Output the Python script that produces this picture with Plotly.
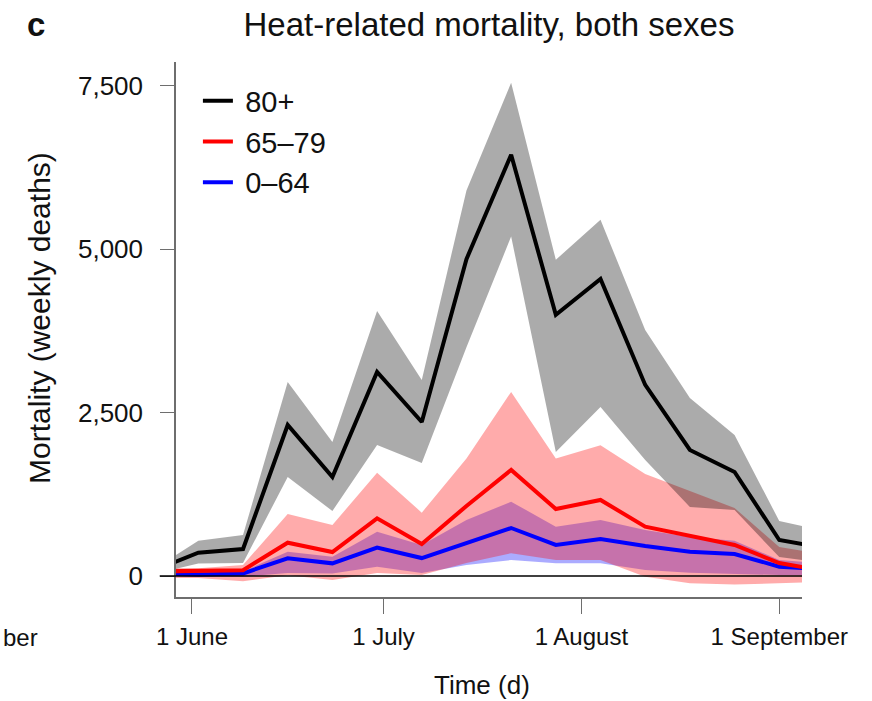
import plotly.graph_objects as go

# ---------------- data (weekly) ----------------
weeks = ['2022-05-26', '2022-06-02', '2022-06-09', '2022-06-16', '2022-06-23',
         '2022-06-30', '2022-07-07', '2022-07-14', '2022-07-21', '2022-07-28',
         '2022-08-04', '2022-08-11', '2022-08-18', '2022-08-25', '2022-09-01',
         '2022-09-08']

age80_mean = [83, 357, 413, 2312, 1516, 3124, 2358, 4850, 6447, 3997, 4548, 2925, 1930, 1593, 551, 431]
age80_hi = [100, 540, 628, 2970, 2052, 4058, 3000, 5900, 7550, 4840, 5452, 3767, 2726, 2159, 842, 693]
age80_lo = [30, 190, 199, 1516, 995, 2006, 1730, 3500, 5196, 1900, 2588, 1776, 1057, 1010, 290, 202]

age65_mean = [70, 80, 90, 510, 367, 883, 490, 1072, 1623, 1026, 1164, 755, 612, 475, 199, 79]
age65_hi = [120, 120, 170, 950, 780, 1582, 970, 1800, 2818, 1800, 2000, 1560, 1300, 1040, 444, 332]
age65_lo = [-30, -30, -80, 10, -60, 45, 15, 200, 350, 245, 245, -10, -110, -130, -110, -90]

age0_mean = [35, 25, 40, 270, 194, 434, 275, 505, 735, 475, 567, 460, 372, 337, 143, 102]
age0_hi = [60, 60, 70, 372, 296, 679, 475, 857, 1138, 755, 857, 704, 597, 541, 245, 194]
age0_lo = [10, -10, -10, 45, 40, 143, 45, 168, 245, 194, 194, 92, 51, 30, 15, 15]

series_names = ['80+', '65\u201379', '0\u201364']

x_tick_vals = ['2022-06-01', '2022-07-01', '2022-08-01', '2022-09-01']
x_tick_text = ['1 June', '1 July', '1 August', '1 September']
y_tick_vals = [0, 2500, 5000, 7500]
y_tick_text = ['0', '2,500', '5,000', '7,500']

FONT = 'Liberation Sans, Arial, sans-serif'
AXIS_GREY = '#6e6e6e'
TXT = '#111111'

fig = go.Figure()


def band(hi, lo, color):
    fig.add_trace(go.Scatter(
        x=weeks + weeks[::-1], y=hi + lo[::-1], fill='toself', fillcolor=color,
        line=dict(width=0), mode='lines', showlegend=False, hoverinfo='skip'))


band(age0_hi, age0_lo, 'rgba(0,0,255,0.33)')
band(age65_hi, age65_lo, 'rgba(255,0,0,0.33)')
band(age80_hi, age80_lo, 'rgba(0,0,0,0.33)')

for name, vals, col, rank in [(series_names[2], age0_mean, '#0000ff', 3),
                              (series_names[1], age65_mean, '#ff0000', 2),
                              (series_names[0], age80_mean, '#000000', 1)]:
    fig.add_trace(go.Scatter(x=weeks, y=vals, mode='lines', name='\u2005' + name,
                             line=dict(color=col, width=4), legendrank=rank,
                             legendgroup=name))

# zero reference line (extends a bit left of the axis, as in the original)
fig.add_shape(type='line', xref='paper', yref='y', x0=-0.026, x1=1, y0=0, y1=0,
              line=dict(color='black', width=1.5), layer='above')

fig.update_layout(
    width=872, height=701,
    margin=dict(l=176, r=70, t=62, b=104, autoexpand=False),
    paper_bgcolor='white', plot_bgcolor='white',
    font=dict(family=FONT, color=TXT),
    title=dict(text='Heat-related mortality, both sexes', font=dict(size=33, color=TXT),
               x=0.5, xref='paper', xanchor='center', y=0.965, yref='container', yanchor='middle'),
    showlegend=True,
    legend=dict(x=0.035, y=0.975, xanchor='left', yanchor='top', bgcolor='rgba(0,0,0,0)',
                font=dict(size=29, color=TXT), tracegroupgap=0, traceorder='grouped'),
    xaxis=dict(type='date', range=['2022-05-29 12:00', '2022-09-04 13:30'], automargin=False,
               tickvals=x_tick_vals, ticktext=x_tick_text,
               showline=True, linecolor=AXIS_GREY, linewidth=1.5,
               ticks='outside', ticklen=15, tickwidth=1.2, tickcolor=AXIS_GREY,
               tickfont=dict(size=24, color=TXT), ticklabelstandoff=2,
               showgrid=False, zeroline=False),
    yaxis=dict(range=[-321, 7867], tickvals=y_tick_vals, ticktext=y_tick_text, automargin=False,
               showline=True, linecolor=AXIS_GREY, linewidth=1.5,
               ticks='outside', ticklen=14, tickwidth=1.2, tickcolor=AXIS_GREY,
               tickfont=dict(size=26, color=TXT), ticklabelstandoff=12,
               showgrid=False, zeroline=False),
)

# axis titles
fig.add_annotation(text='Time (d)', xref='paper', yref='paper', x=0.4888, y=-0.1645,
                   xanchor='center', yanchor='middle', showarrow=False,
                   font=dict(size=26, family=FONT, color=TXT))
fig.add_annotation(text='Mortality (weekly deaths)', xref='paper', yref='paper',
                   x=-0.2173, y=0.5215, textangle=-90,
                   xanchor='center', yanchor='middle', showarrow=False,
                   font=dict(size=30, family=FONT, color=TXT))
# panel letter
fig.add_annotation(text='<b>c</b>', xref='paper', yref='paper', x=-0.241, y=1.07,
                   xanchor='left', yanchor='middle', showarrow=False,
                   font=dict(size=33, family=FONT, color=TXT))
# tail of the tick label of the neighbouring panel
fig.add_annotation(text='ber', xref='paper', yref='paper', x=-0.2795, y=-0.075,
                   xanchor='left', yanchor='middle', showarrow=False,
                   font=dict(size=24, family=FONT, color=TXT))

fig.write_html('out.html')
